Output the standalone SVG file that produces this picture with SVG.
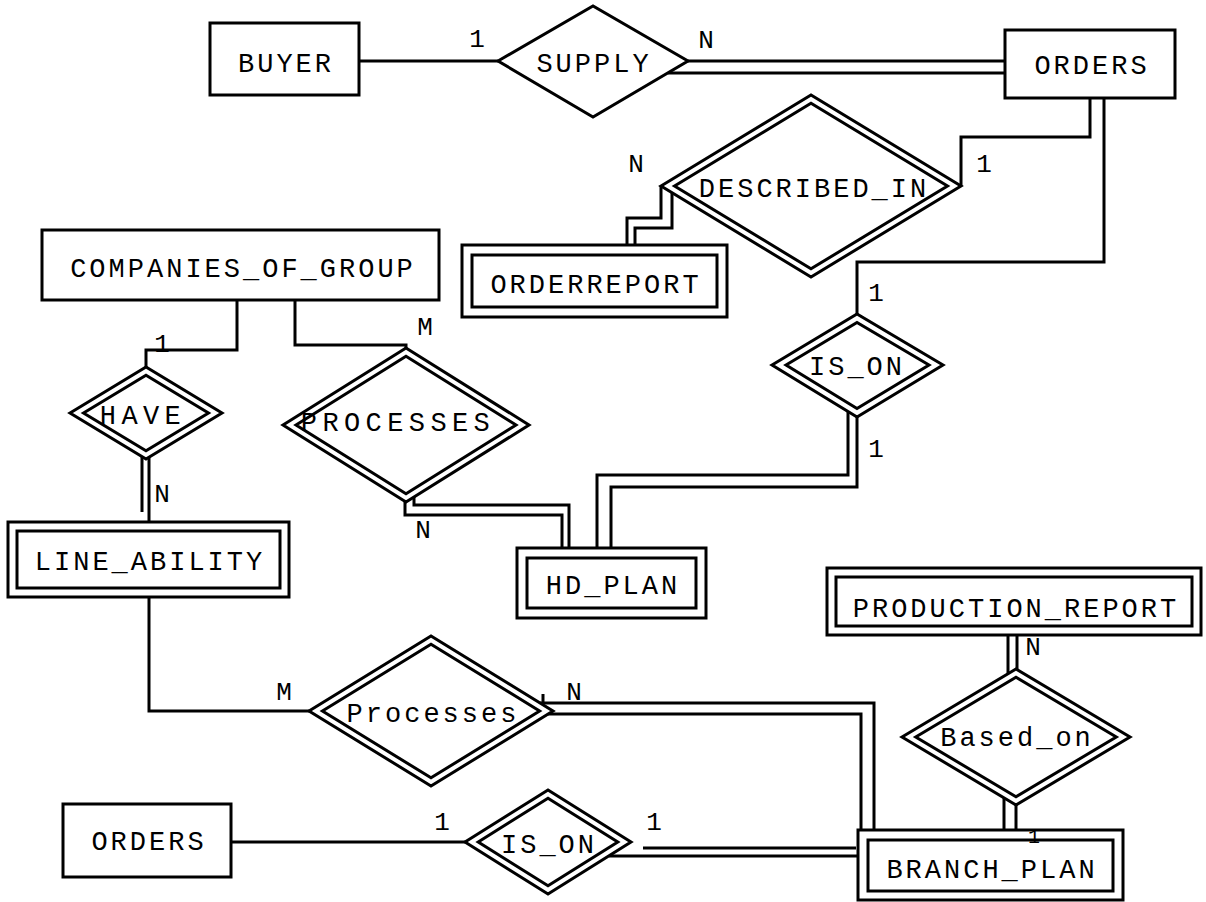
<svg xmlns="http://www.w3.org/2000/svg" width="1206" height="902" viewBox="0 0 1206 902">
  <style>
    .bg { fill: #ffffff; }
    .box { fill: #ffffff; stroke: #000000; stroke-width: 3; }
    .inner { fill: none; stroke: #000000; stroke-width: 3; }
    .rel { fill: #ffffff; stroke: #000000; stroke-width: 3; stroke-linejoin: miter; }
    .relin { fill: none; stroke: #000000; stroke-width: 3; stroke-linejoin: miter; }
    .wire { fill: none; stroke: #000000; stroke-width: 3; stroke-linejoin: miter; }
    .lbl { font-family: "Liberation Mono", "DejaVu Sans Mono", monospace; font-size: 27px; letter-spacing: 3px; fill: #000000; text-anchor: middle; }
    .wide { letter-spacing: 5.4px; }
    .card { font-family: "Liberation Mono", "DejaVu Sans Mono", monospace; font-size: 26px; fill: #000000; text-anchor: middle; }
  </style>

  <rect class="bg" x="0" y="0" width="1206" height="902"/>

  <!-- connectors -->
  <g id="connectors">
    <!-- BUYER - SUPPLY -->
    <polyline class="wire" points="359,61 498,61"/>
    <!-- SUPPLY = ORDERS -->
    <polyline class="wire" points="688,61 1005,61"/>
    <polyline class="wire" points="668,73 1005,73"/>
    <!-- ORDERS - DESCRIBED_IN -->
    <polyline class="wire" points="1090,98 1090,137 961,137 961,186"/>
    <!-- ORDERS - IS_ON -->
    <polyline class="wire" points="1104,98 1104,262 857,262 857,314"/>
    <!-- DESCRIBED_IN = ORDERREPORT -->
    <polyline class="wire" points="661,186 661,218 627,218 627,245"/>
    <polyline class="wire" points="672,193 672,228 635,228 635,245"/>
    <!-- COMPANIES_OF_GROUP - HAVE -->
    <polyline class="wire" points="237,300 237,350 146,350 146,367"/>
    <!-- COMPANIES_OF_GROUP - PROCESSES -->
    <polyline class="wire" points="295,300 295,345 406,345 406,348"/>
    <!-- HAVE = LINE_ABILITY -->
    <polyline class="wire" points="142,457 142,512"/>
    <polyline class="wire" points="149,457 149,522"/>
    <!-- PROCESSES = HD_PLAN -->
    <polyline class="wire" points="405,502 405,515 562,515 562,548"/>
    <polyline class="wire" points="414,497 414,505 569,505 569,556"/>
    <!-- IS_ON = HD_PLAN -->
    <polyline class="wire" points="848,411 848,475 597,475 597,548"/>
    <polyline class="wire" points="857,417 857,487 611,487 611,548"/>
    <!-- LINE_ABILITY - Processes -->
    <polyline class="wire" points="149,597 149,711 309,711"/>
    <!-- Processes = BRANCH_PLAN -->
    <polyline class="wire" points="540,703 874,703 874,830"/>
    <polyline class="wire" points="548,714 861,714 861,830"/>
    <polyline class="wire" points="543,694 543,704"/>
    <!-- PRODUCTION_REPORT = Based_on -->
    <polyline class="wire" points="1008,635 1008,674"/>
    <polyline class="wire" points="1017,635 1017,670"/>
    <!-- Based_on = BRANCH_PLAN -->
    <polyline class="wire" points="1004,798 1004,830"/>
    <polyline class="wire" points="1016,805 1016,830"/>
    <!-- ORDERS - IS_ON (lower) -->
    <polyline class="wire" points="231,842 465,842"/>
    <!-- IS_ON = BRANCH_PLAN -->
    <polyline class="wire" points="643,848 856,848"/>
    <polyline class="wire" points="609,856 858,856"/>
  </g>

  <!-- entities -->
  <g id="buyer">
    <rect class="box" x="210" y="23" width="149" height="72"/>
    <text class="lbl" x="286" y="72">BUYER</text>
  </g>

  <g id="orders-top">
    <rect class="box" x="1005" y="30" width="170" height="68"/>
    <text class="lbl" x="1092" y="74">ORDERS</text>
  </g>

  <g id="orderreport">
    <rect class="box" x="462" y="245" width="265" height="72"/>
    <rect class="inner" x="472" y="255" width="245" height="52"/>
    <text class="lbl" x="596" y="293">ORDERREPORT</text>
  </g>

  <g id="companies-of-group">
    <rect class="box" x="42" y="230" width="397" height="70"/>
    <text class="lbl" x="243" y="277">COMPANIES_OF_GROUP</text>
  </g>

  <g id="line-ability">
    <rect class="box" x="8" y="522" width="281" height="75"/>
    <rect class="inner" x="17" y="531" width="263" height="57"/>
    <text class="lbl" x="150" y="570">LINE_ABILITY</text>
  </g>

  <g id="hd-plan">
    <rect class="box" x="517" y="548" width="189" height="70"/>
    <rect class="inner" x="527" y="558" width="169" height="50"/>
    <text class="lbl" x="613" y="594">HD_PLAN</text>
  </g>

  <g id="production-report">
    <rect class="box" x="827" y="568" width="374" height="67"/>
    <rect class="inner" x="836" y="577" width="356" height="49"/>
    <text class="lbl" x="1016" y="617">PRODUCTION_REPORT</text>
  </g>

  <g id="branch-plan">
    <rect class="box" x="858" y="830" width="265" height="70"/>
    <rect class="inner" x="868" y="840" width="245" height="51"/>
    <text class="lbl" x="992" y="878">BRANCH_PLAN</text>
  </g>

  <g id="orders-bottom">
    <rect class="box" x="63" y="804" width="168" height="73"/>
    <text class="lbl" x="149" y="850">ORDERS</text>
  </g>

  <!-- relationships -->
  <g id="supply">
    <polygon class="rel" points="498,61 593,6 688,61 593,117"/>
    <text class="lbl" x="594" y="72">SUPPLY</text>
  </g>

  <g id="described-in">
    <polygon class="rel" points="661,186 811,95 961,186 811,277"/>
    <polygon class="relin" points="674.5,186 811,103.2 947.5,186 811,268.8"/>
    <text class="lbl" x="814" y="197">DESCRIBED_IN</text>
  </g>

  <g id="is-on-top">
    <polygon class="rel" points="772,365 857,314 943,365 857,417"/>
    <polygon class="relin" points="786,365 857,322.5 929,365 857,408.5"/>
    <text class="lbl" x="857" y="375">IS_ON</text>
  </g>

  <g id="have">
    <polygon class="rel" points="70,413 146,367 222,413 146,459"/>
    <polygon class="relin" points="83.5,413 146,375.2 208.5,413 146,450.8"/>
    <text class="lbl wide" x="143" y="424">HAVE</text>
  </g>

  <g id="processes-top">
    <polygon class="rel" points="283,425 406,348 529,425 406,502"/>
    <polygon class="relin" points="296,425 406,356.3 516,425 406,493.7"/>
    <text class="lbl wide" x="398" y="431">PROCESSES</text>
  </g>

  <g id="processes-bottom">
    <polygon class="rel" points="309,711 431,636 553,711 431,786"/>
    <polygon class="relin" points="322.4,711 431,644.2 539.6,711 431,777.8"/>
    <text class="lbl" x="433" y="722">Processes</text>
  </g>

  <g id="based-on">
    <polygon class="rel" points="902,737 1016,669 1130,737 1016,805"/>
    <polygon class="relin" points="915.7,737 1016,677.2 1116.3,737 1016,796.8"/>
    <text class="lbl" x="1017" y="746">Based_on</text>
  </g>

  <g id="is-on-bottom">
    <polygon class="rel" points="465,842 548,790 631,842 548,894"/>
    <polygon class="relin" points="478.2,842 548,798.3 617.8,842 548,885.7"/>
    <text class="lbl" x="549" y="853">IS_ON</text>
  </g>

  <!-- cardinalities -->
  <g id="cardinalities">
    <text class="card" x="477" y="47">1</text>
    <text class="card" x="706" y="48">N</text>
    <text class="card" x="636" y="172">N</text>
    <text class="card" x="984" y="172">1</text>
    <text class="card" x="876" y="301">1</text>
    <text class="card" x="876" y="457">1</text>
    <text class="card" x="162" y="352">1</text>
    <text class="card" x="425" y="335">M</text>
    <text class="card" x="162" y="502">N</text>
    <text class="card" x="423" y="538">N</text>
    <text class="card" x="284" y="700">M</text>
    <text class="card" x="574" y="700">N</text>
    <text class="card" x="1033" y="655">N</text>
    <text class="card" x="1034" y="843" style="font-size:20px">1</text>
    <text class="card" x="442" y="830">1</text>
    <text class="card" x="654" y="830">1</text>
  </g>
</svg>
